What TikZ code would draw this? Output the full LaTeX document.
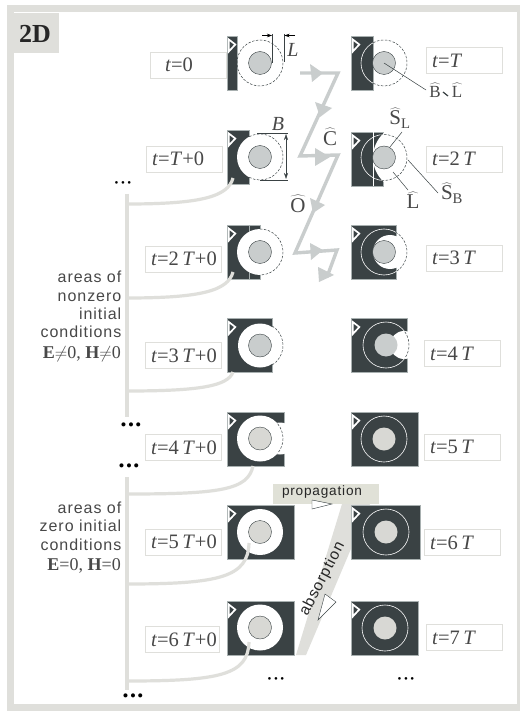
\documentclass[tikz,border=0pt]{standalone}
\usepackage{fontspec}
\setmainfont{Liberation Serif}
\newfontfamily\notefont[LetterSpace=6]{Liberation Sans}
\usepackage{tikz}
\usetikzlibrary{
    arrows.meta,
    positioning,
    calc
}
\definecolor{framegrey}{HTML}{DFDFDB}
\definecolor{paneldark}{HTML}{3A4244}
\definecolor{paneledge}{HTML}{A8B0B0}
\definecolor{discgrey}{HTML}{C9CDCD}
\definecolor{disclight}{HTML}{D8D8D4}
\definecolor{tabgreen}{HTML}{E0E1D7}
\definecolor{inkgrey}{HTML}{484848}
\newcommand{\openarc}[2]{\draw[openedge] ([shift={(-#2:23)}]#1.center) arc[start angle=-#2, end angle=#2, radius=23];}
\newcommand{\startflag}[1]{\draw[flag] ([shift={(1.8,3.5)}]#1.north west) -- ++(6.5,5) -- ++(-6.5,7) -- cycle;}
\newcommand{\threedots}[1]{\textbullet\hspace{#1}\textbullet\hspace{#1}\textbullet}

\begin{document}
\begin{tikzpicture}[x=1pt,y=-1pt,
    panel/.style={rectangle, fill=paneldark, draw=paneledge, line width=0.4pt, anchor=west, minimum height=54pt, inner sep=0pt, outer sep=0pt},
    disc/.style={circle, fill=#1, draw=paneldark, line width=0.4pt, minimum size=23pt, inner sep=0pt, outer sep=0pt},
    cleared/.style={circle, fill=white, minimum size=46pt, inner sep=0pt, outer sep=0pt},
    cutout/.style={circle, fill=white, minimum size=#1, inner sep=0pt, outer sep=0pt},
    ring/.style={circle, draw=white, line width=0.6pt, minimum size=46pt, inner sep=0pt, outer sep=0pt},
    openedge/.style={draw=paneldark, line width=0.5pt, dash pattern=on 2.5pt off 1.5pt},
    flag/.style={draw=white, fill=paneldark, line width=1.7pt, line join=miter},
    timebox/.style={rectangle, draw=framegrey, fill=white, line width=0.6pt, anchor=west, minimum height=26pt, text width=64pt, align=left, inner xsep=6pt, inner ysep=0pt, outer sep=0pt, font=\fontsize{20.5}{21}\selectfont, text=inkgrey},
    branch/.style={draw=framegrey, line width=3.2pt},
    zigzag/.style={draw=discgrey, line width=3.4pt, line join=miter},
    zighead/.style={fill=discgrey},
    leader/.style={draw=paneldark, line width=0.5pt},
    dimline/.style={draw=paneldark, line width=0.5pt},
    dimarrow/.style={draw=black, line width=0.5pt, -{Stealth[length=5pt,width=3.5pt]}},
    hatlabel/.style={font=\fontsize{21}{21}\selectfont, text=inkgrey, inner sep=0pt},
    smallhat/.style={font=\fontsize{17}{17}\selectfont, text=inkgrey, inner sep=0pt},
    note/.style={font=\notefont\fontsize{16}{18.4}\selectfont, text=inkgrey, align=right, anchor=east, inner sep=0pt},
    eqnote/.style={font=\fontsize{18}{18}\selectfont, text=inkgrey, anchor=east, inner sep=0pt},
    bigdots/.style={font=\fontsize{17}{17}\selectfont, inner sep=0pt},
    smalldots/.style={font=\fontsize{11}{11}\selectfont, inner sep=0pt},
    pointer/.style={draw=paneldark, fill=white, line width=0.4pt},
]
    \useasboundingbox (0,0) rectangle (519,711);
    \fill[white] (0,0) rectangle (519,711);

    % Frame and tab
    \draw[framegrey, line width=7pt] (10.5,9) rectangle (520.5,707);
    \node[rectangle, fill=framegrey, minimum width=51pt, minimum height=40pt, anchor=north west, inner sep=0pt] (tab) at (8,13) {};
    \node[font=\bfseries\fontsize{26}{26}\selectfont, text=black!85] (tabtext) at (35,33.5) {2D};

    % Absorption band goes under the panels
    \fill[framegrey] (342,504) -- (370,504) -- (306,655) -- (296,655) -- cycle;

    % t=0
    \node[timebox] (tl0) at (150,65) {\hspace*{9pt}\textit{t}=0};
    \node[panel, minimum width=10pt] (pl0) at (227,63) {};
    \startflag{pl0}
    \node[disc=discgrey] (dl0) at (260,63) {};
    \openarc{dl0}{180}

    % t=T+0
    \node[timebox] (tl1) at (146,159) {\textit{t}=\textit{T}+0};
    \node[panel, minimum width=22pt] (pl1) at (227,157) {};
    \startflag{pl1}
    \node[cleared] (cl1) at (260,157) {};
    \node[disc=discgrey] (dl1) at (260,157) {};
    \openarc{dl1}{118}

    % t=2T+0
    \node[timebox] (tl2) at (145,259) {\textit{t}=2\,\textit{T}+0};
    \node[panel, minimum width=33pt] (pl2) at (227,252) {};
    \startflag{pl2}
    \draw[paneledge, line width=0.4pt] (249,225) -- (249,279);
    \node[cleared] (cl2) at (260,252) {};
    \node[disc=discgrey] (dl2) at (260,252) {};
    \openarc{dl2}{90}

    % t=3T+0
    \node[timebox] (tl3) at (145,355.5) {\textit{t}=3\,\textit{T}+0};
    \node[panel, minimum width=45pt] (pl3) at (227,345.5) {};
    \startflag{pl3}
    \node[cleared, minimum size=44pt] (cl3) at (260,345.5) {};
    \node[disc=discgrey] (dl3) at (260,345.5) {};
    \openarc{dl3}{58}

    % t=4T+0
    \node[timebox] (tl4) at (145,447.5) {\textit{t}=4\,\textit{T}+0};
    \node[panel, minimum width=57pt] (pl4) at (227,439) {};
    \startflag{pl4}
    \node[cutout=32pt] (xl4) at (280,438.5) {};
    \node[cleared] (cl4) at (260,438.5) {};
    \node[disc=disclight] (dl4) at (260,438.5) {};
    \openarc{dl4}{40}

    % t=5T+0
    \node[timebox] (tl5) at (145,542) {\textit{t}=5\,\textit{T}+0};
    \node[panel, minimum width=67pt] (pl5) at (227,532) {};
    \startflag{pl5}
    \node[cleared] (cl5) at (260,532) {};
    \node[disc=disclight] (dl5) at (260,532) {};

    % t=6T+0
    \node[timebox, text width=62pt] (tl6) at (145,639.5) {\textit{t}=6\,\textit{T}+0};
    \node[panel, minimum width=67pt] (pl6) at (227,628) {};
    \startflag{pl6}
    \node[cleared] (cl6) at (260,627.5) {};
    \node[disc=disclight] (dl6) at (260,627.5) {};

    % t=T
    \node[panel, minimum width=22pt] (pr1) at (351,63) {};
    \startflag{pr1}
    \node[ring] (rr1) at (384,63) {};
    \node[disc=discgrey] (dr1) at (384,63) {};
    \openarc{dr1}{118}
    \node[timebox] (tr1) at (426,60.5) {\textit{t}=\textit{T}};

    % t=2T
    \node[panel, minimum width=32pt] (pr2) at (351,159) {};
    \startflag{pr2}
    \draw[white, line width=0.3pt] (373,132) -- (373,186);
    \node[cutout=66pt] (xr2) at (406,157.5) {};
    \node[ring] (rr2) at (384,157.5) {};
    \node[disc=discgrey] (dr2) at (384,157.5) {};
    \openarc{dr2}{100}
    \node[timebox] (tr2) at (426,159) {\textit{t}=2\,\textit{T}};

    % t=3T
    \node[panel, minimum width=45pt] (pr3) at (351,252) {};
    \startflag{pr3}
    \node[cutout=34pt] (xr3) at (390,252) {};
    \node[ring] (rr3) at (384,252) {};
    \node[disc=discgrey] (dr3) at (384,252) {};
    \openarc{dr3}{60}
    \node[timebox] (tr3) at (426,258) {\textit{t}=3\,\textit{T}};

    % t=4T
    \node[panel, minimum width=56pt] (pr4) at (351,345.5) {};
    \startflag{pr4}
    \node[cutout=28pt] (xr4) at (404,345) {};
    \node[ring] (rr4) at (386,345) {};
    \node[disc=discgrey, draw=none] (dr4) at (386,345) {};
    \openarc{dr4}{35}
    \node[timebox] (tr4) at (424,353.5) {\textit{t}=4\,\textit{T}};

    % t=5T
    \node[panel, minimum width=67pt] (pr5) at (351,439) {};
    \startflag{pr5}
    \node[ring] (rr5) at (384,439) {};
    \node[disc=disclight, draw=none] (dr5) at (384,439) {};
    \node[timebox] (tr5) at (424,447) {\textit{t}=5\,\textit{T}};

    % t=6T
    \node[panel, minimum width=69pt] (pr6) at (351,532) {};
    \startflag{pr6}
    \node[ring] (rr6) at (386,532) {};
    \node[disc=disclight, draw=none] (dr6) at (386,532) {};
    \node[timebox] (tr6) at (424,542.5) {\textit{t}=6\,\textit{T}};

    % t=7T
    \node[panel, minimum width=67pt] (pr7) at (351,628) {};
    \startflag{pr7}
    \node[ring] (rr7) at (385,628) {};
    \node[disc=disclight, draw=none] (dr7) at (385,628) {};
    \node[timebox] (tr7) at (426,637.5) {\textit{t}=7\,\textit{T}};

    % Trunks and branches
    \coordinate (ja) at (127,194);
    \coordinate (jb) at (127,417);
    \coordinate (jc) at (127,477);
    \coordinate (jd) at (127,690);
    \draw[branch] (ja) -- (jb);
    \draw[branch] (jc) -- (jd);
    \coordinate (b1) at (127,204);
    \coordinate (b2) at (127,298);
    \coordinate (b3) at (127,391);
    \coordinate (b4) at (127,494);
    \coordinate (b5) at (127,584);
    \coordinate (b6) at (127,681);
    \coordinate (e1) at (233,178);
    \coordinate (e2) at (233,272);
    \coordinate (e3) at (233,372);
    \coordinate (e4) at (253,466);
    \coordinate (e5) at (249,543);
    \coordinate (e6) at (249,642);
    \draw[branch] (b1) .. controls (200,204) and (228,197) .. (e1);
    \draw[branch] (b2) .. controls (200,298) and (228,291) .. (e2);
    \draw[branch] (b3) .. controls (200,391) and (228,386) .. (e3);
    \draw[branch] (b4) .. controls (220,494) and (248,490) .. (e4);
    \draw[branch] (b5) .. controls (220,584) and (248,577) .. (e5);
    \draw[branch] (b6) .. controls (220,681) and (248,675) .. (e6);

    % Dots
    \node[smalldots] (dota) at (123,184) {\threedots{2.5pt}};
    \node[bigdots] (dotb) at (131,427) {\threedots{1.5pt}};
    \node[bigdots] (dotc) at (129,468) {\threedots{1.5pt}};
    \node[bigdots] (dotd) at (133,698) {\threedots{1.5pt}};
    \node[smalldots] (dote) at (276,680) {\threedots{2.5pt}};
    \node[smalldots] (dotf) at (406,680) {\threedots{2.5pt}};

    % Side notes
    \node[note] (nzero) at (121.5,304.5) {areas of\\nonzero\\initial\\conditions};
    \node[eqnote] (nzeq) at (121,354) {\textbf{E}$\neq$0, \textbf{H}$\neq$0};
    \node[note] (zero) at (121.5,526) {areas of\\zero initial\\conditions};
    \node[eqnote] (zeq) at (121,566) {\textbf{E}=0, \textbf{H}=0};

    % Dimensions L and B
    \coordinate (la) at (272,34);
    \coordinate (lb) at (284,34);
    \draw[dimline] (la) -- (272,63);
    \draw[dimline] (lb) -- (284,62);
    \draw[dimarrow] (262,35.5) -- (272,35.5);
    \draw[dimarrow] (295,35.5) -- (284.5,35.5);
    \node[font=\itshape\fontsize{20}{20}\selectfont, text=inkgrey, inner sep=0pt] (labl) at (293,50) {L};
    \draw[dimline] (257,133) -- (288,133);
    \draw[dimline] (260,180) -- (288,180);
    \draw[dimline, <->, >={Stealth[length=6pt,width=4pt]}] (286,134) -- (286,179);
    \node[font=\itshape\fontsize{20}{20}\selectfont, text=inkgrey, inner sep=0pt] (labb) at (278,124) {B};

    % Zigzag between the columns
    \draw[zigzag] (300,73) -- (338,73) -- (300,156) -- (338,155) -- (295,253) -- (337,250) -- (327,277);
    \fill[zighead] (310,64) -- (323,73) -- (312,82) -- cycle;
    \fill[zighead] (315,102) -- (332,108) -- (320,117) -- cycle;
    \fill[zighead] (315,148) -- (330,157) -- (315,166) -- cycle;
    \fill[zighead] (310,198) -- (325,205) -- (313,213) -- cycle;
    \fill[zighead] (310,243) -- (323,250) -- (311,260) -- cycle;
    \fill[zighead] (318,267) -- (334,275) -- (319,282) -- cycle;
    \node[hatlabel] (hatc) at (330,137) {$\widehat{\mathrm{C}}$};
    \node[hatlabel] (hato) at (298,204) {$\widehat{\mathrm{O}}$};

    % Operator labels and leaders
    \node[smallhat] (hatb) at (435,90) {$\widehat{\mathrm{B}}$};
    \node[smallhat] (hatl) at (457,90) {$\widehat{\mathrm{L}}$};
    \draw[paneldark, line width=1.2pt] (443,92) -- (448,96);
    \draw[leader] (dr1.center) -- (426,90);
    \node[hatlabel] (hatsl) at (400,118) {$\widehat{\mathrm{S}}_{\mathrm{L}}$};
    \draw[leader] (dr2.61) -- (402,132);
    \node[hatlabel] (hatsb) at (452,193) {$\widehat{\mathrm{S}}_{\mathrm{B}}$};
    \coordinate (sbfoot) at (408,160);
    \draw[leader] (sbfoot) -- (438,193);
    \node[hatlabel] (hatlo) at (413,200) {$\widehat{\mathrm{L}}$};
    \coordinate (lofoot) at (393,172);
    \draw[leader] (lofoot) -- (408,190);

    % Propagation and absorption
    \node[rectangle, fill=tabgreen, minimum width=106pt, minimum height=20pt, anchor=north west, inner sep=0pt] (prop) at (273,484) {};
    \node[font=\fontsize{13.6}{14}\selectfont\notefont, text=black!85, inner sep=0pt] (proptext) at (322,491.5) {propagation};
    \draw[pointer] (312,500) -- (332,504) -- (312,509) -- cycle;
    \node[font=\fontsize{15.5}{16}\selectfont\notefont, text=black!85, rotate=62.5, inner sep=0pt] (abstext) at (322.5,579) {absorption};
    \draw[pointer] (325,594) -- (336,602) -- (318,620) -- cycle;

\end{tikzpicture}
\end{document}
